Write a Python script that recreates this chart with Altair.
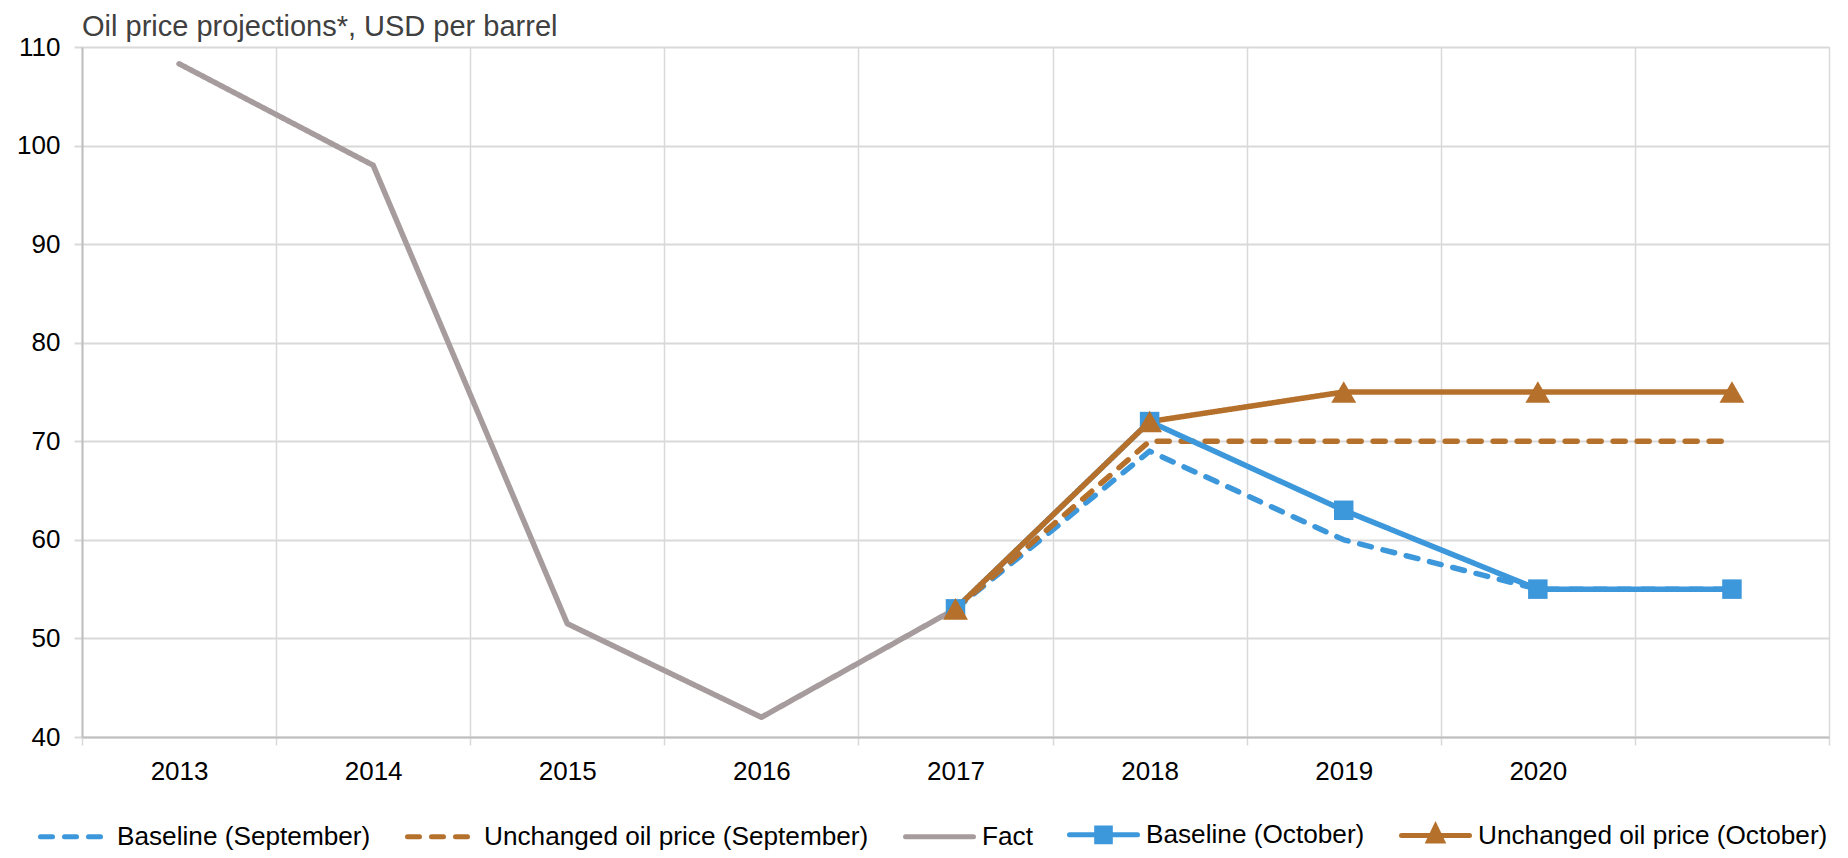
import altair as alt
import pandas as pd

# ---- data ----
years = ["2013", "2014", "2015", "2016", "2017", "2018", "2019", "2020", "2021"]
fact_years = ["2013", "2014", "2015", "2016", "2017"]
fact = [108.3, 98.0, 51.5, 42.0, 53.0]
proj_years = ["2017", "2018", "2019", "2020", "2021"]
baseline_sep = [53.0, 69.0, 60.0, 55.0, 55.0]
unchanged_sep = [53.0, 70.0, 70.0, 70.0, 70.0]
baseline_oct = [53.0, 72.0, 63.0, 55.0, 55.0]
unchanged_oct = [53.0, 72.0, 75.0, 75.0, 75.0]

series_names = [
    "Baseline (September)",
    "Unchanged oil price (September)",
    "Fact",
    "Baseline (October)",
    "Unchanged oil price (October)",
]
series_colors = ["#3D97DB", "#B5702C", "#A69C9E", "#3D97DB", "#B5702C"]
series_dash = [[12, 12], [12, 12], [1, 0], [1, 0], [1, 0]]
y_ticks = [40, 50, 60, 70, 80, 90, 100, 110]

rows = []
for yr, v in zip(fact_years, fact):
    rows.append({"year": yr, "value": v, "series": "Fact"})
for name, vals in [
    ("Baseline (September)", baseline_sep),
    ("Unchanged oil price (September)", unchanged_sep),
    ("Baseline (October)", baseline_oct),
    ("Unchanged oil price (October)", unchanged_oct),
]:
    for yr, v in zip(proj_years, vals):
        rows.append({"year": yr, "value": v, "series": name})
df = pd.DataFrame(rows)

FONT = "Liberation Sans"
GRID = "#D9D9D9"

sq_path = "M-1,0H1M-0.2,-0.2H0.2V0.2H-0.2Z"
tri_path = "M-1,0H1M0,-0.26L0.2,0.16H-0.2Z"
shape_expr = (
    f"datum.value === 'Baseline (October)' ? '{sq_path}' : "
    f"datum.value === 'Unchanged oil price (October)' ? '{tri_path}' : 'stroke'"
)
dash_expr = (
    "indexof(['Baseline (September)','Unchanged oil price (September)'], datum.value) >= 0"
    " ? [12,12] : [1,0]"
)
legend_symbol_encode = {
    "symbols": {
        "update": {
            "shape": {"signal": shape_expr},
            "strokeDash": {"signal": dash_expr},
            "stroke": {"signal": "scale('color', datum.value)"},
            "fill": {"signal": "scale('color', datum.value)"},
            "strokeWidth": {"value": 5},
            "strokeCap": {"value": "round"},
            "opacity": {"value": 1},
            "size": {"value": 4624},
        }
    }
}

legend = alt.Legend(
    title=None,
    orient="none",
    direction="horizontal",
    legendX=-44,
    legendY=751,
    columns=5,
    columnPadding=26,
    labelOffset=6,
    labelFont=FONT,
    labelFontSize=26.2,
    labelColor="#000000",
    labelLimit=600,
    symbolSize=4624,
    symbolType="stroke",
    symbolStrokeWidth=5,
)

color = alt.Color(
    "series:N",
    scale=alt.Scale(domain=series_names, range=series_colors),
    legend=legend,
)

x = alt.X(
    "year:O",
    bandPosition=0.5,
    scale=alt.Scale(type="band", domain=years, paddingInner=0, paddingOuter=0),
    axis=alt.Axis(
        title=None,
        tickBand="extent",
        grid=True,
        gridColor=GRID,
        gridWidth=1.5,
        ticks=True,
        tickColor=GRID,
        tickWidth=1.5,
        tickSize=8,
        domain=True,
        domainColor="#BFBFBF",
        domainWidth=2,
        labelAngle=0,
        labelFont=FONT,
        labelFontSize=26,
        labelColor="#000000",
        labelPadding=13,
        labelExpr="datum.value == '2021' ? '' : datum.value",
    ),
)
y = alt.Y(
    "value:Q",
    scale=alt.Scale(domain=[40, 110], nice=False, zero=False),
    axis=alt.Axis(
        title=None,
        values=y_ticks,
        grid=True,
        gridColor=GRID,
        gridWidth=2,
        ticks=True,
        tickColor=GRID,
        tickWidth=2,
        tickSize=8,
        domain=True,
        domainColor="#BFBFBF",
        domainWidth=2,
        labelFont=FONT,
        labelFontSize=26,
        labelColor="#000000",
        labelPadding=14,
    ),
)

base = alt.Chart(df)

lines = base.mark_line(strokeWidth=5.5, strokeCap="round", strokeJoin="round").encode(
    x=x,
    y=y,
    color=color,
    strokeDash=alt.StrokeDash(
        "series:N",
        scale=alt.Scale(domain=series_names, range=series_dash),
        legend=None,
    ),
    order=alt.Order("year:O"),
)

squares = base.transform_filter(
    alt.datum.series == "Baseline (October)"
).mark_square(size=380, opacity=1, filled=True).encode(x=x, y=y, color=color)

triangles = base.transform_filter(
    alt.datum.series == "Unchanged oil price (October)"
).mark_point(shape="triangle-up", size=620, opacity=1, filled=True).encode(
    x=x, y=y, color=color
)


class LegendEncodedLayer(alt.LayerChart):
    """Layer chart that adds per-entry legend symbol styling to the spec."""

    def to_dict(self, *args, **kwargs):
        d = super().to_dict(*args, **kwargs)
        for lyr in d.get("layer", []):
            col = lyr.get("encoding", {}).get("color")
            if isinstance(col, dict) and isinstance(col.get("legend"), dict):
                col["legend"]["encode"] = legend_symbol_encode
        return d


chart = (
    LegendEncodedLayer(layer=[lines, squares, triangles])
    .properties(
        width=1747,
        height=690,
        title=alt.TitleParams(
            text="Oil price projections*, USD per barrel",
            anchor="start",
            frame="group",
            font=FONT,
            fontSize=29,
            fontWeight="normal",
            color="#404040",
            offset=-8,
        ),
        autosize=alt.AutoSizeParams(type="none"),
        padding={"left": 74, "top": 39, "right": 5, "bottom": 113},
    )
    .configure_view(strokeWidth=0)
    .configure(background="#FFFFFF")
)

chart.save("out.html", embed_options={"renderer": "svg", "actions": False})
